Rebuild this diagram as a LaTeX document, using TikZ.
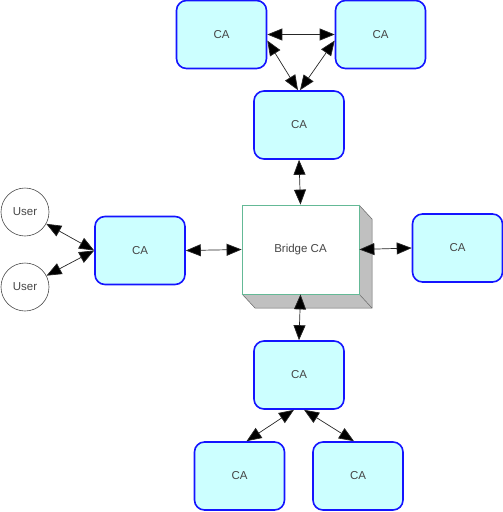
\documentclass[tikz,border=0pt]{standalone}
\usepackage{fontspec}
\setmainfont{Liberation Sans}
\usetikzlibrary{arrows.meta}
\definecolor{cafill}{RGB}{204,255,255}
\definecolor{caborder}{RGB}{20,20,255}
\definecolor{txt}{RGB}{70,70,70}
\definecolor{bridgeline}{RGB}{100,185,150}
\definecolor{shadowfill}{RGB}{192,192,192}
\tikzset{
  ca/.style={draw=caborder, line width=1.6pt, fill=cafill, rounded corners=10pt,
    minimum width=90pt, minimum height=68pt, font=\fontsize{11.5}{13}\selectfont, text=txt, inner sep=0pt},
  bridge/.style={draw=bridgeline, line width=0.8pt, fill=white,
    minimum width=117pt, minimum height=89pt, font=\fontsize{11.5}{13}\selectfont, text=txt, inner sep=0pt},
  user/.style={circle, draw=black!70, line width=0.6pt, fill=white, minimum size=48pt,
    font=\fontsize{11.5}{13}\selectfont, text=txt, inner sep=0pt},
  link/.style={draw=black!85, line width=0.7pt, {Triangle[length=15pt,width=12pt,fill=black]}-{Triangle[length=15pt,width=12pt,fill=black]}}
}
\begin{document}
\begin{tikzpicture}[x=1pt,y=-1pt]
\useasboundingbox (0,0) rectangle (503,512);
% bridge shadow
\fill[shadowfill] (242,294) -- (255,308) -- (372,308) -- (372,219) -- (359,205) -- (359,294) -- cycle;
\draw[black!60, line width=0.5pt] (242,294) -- (255,308) -- (372,308) -- (372,219) -- (359,205);
\draw[black!60, line width=0.5pt] (359,294) -- (372,308);
\node[bridge] (br) at (300.5,249.5) {Bridge CA};
\node[ca] (c1) at (221.5,34.5) {CA};
\node[ca] (c2) at (380.5,34.5) {CA};
\node[ca] (c3) at (299,125) {CA};
\node[ca] (c4) at (140,250.5) {CA};
\node[ca] (c5) at (457.5,248) {CA};
\node[ca] (c6) at (299,375) {CA};
\node[ca] (c7) at (239.5,476) {CA};
\node[ca] (c8) at (358,476) {CA};
\node[user] (u1) at (25,212) {User};
\node[user] (u2) at (25,287) {User};
% connectors
\draw[link] (c1.east) -- (c2.west);
\draw[link] ([yshift=-6pt]c1.east) -- ([xshift=-1pt]c3.north);
\draw[link] ([yshift=-6pt]c2.west) -- ([xshift=1pt]c3.north);
\draw[link] (c3.south) -- (br.north);
\draw[link] (br.west) -- (c4.east);
\draw[link] (br.east) -- (c5.west);
\draw[link] (br.south) -- (c6.north);
\draw[link] ([xshift=-5pt]c6.south) -- ([xshift=7pt]c7.north);
\draw[link] ([xshift=5pt]c6.south) -- ([xshift=-4pt]c8.north);
\draw[link] (u1) -- (c4.west);
\draw[link] (u2) -- (c4.west);
\end{tikzpicture}
\end{document}
